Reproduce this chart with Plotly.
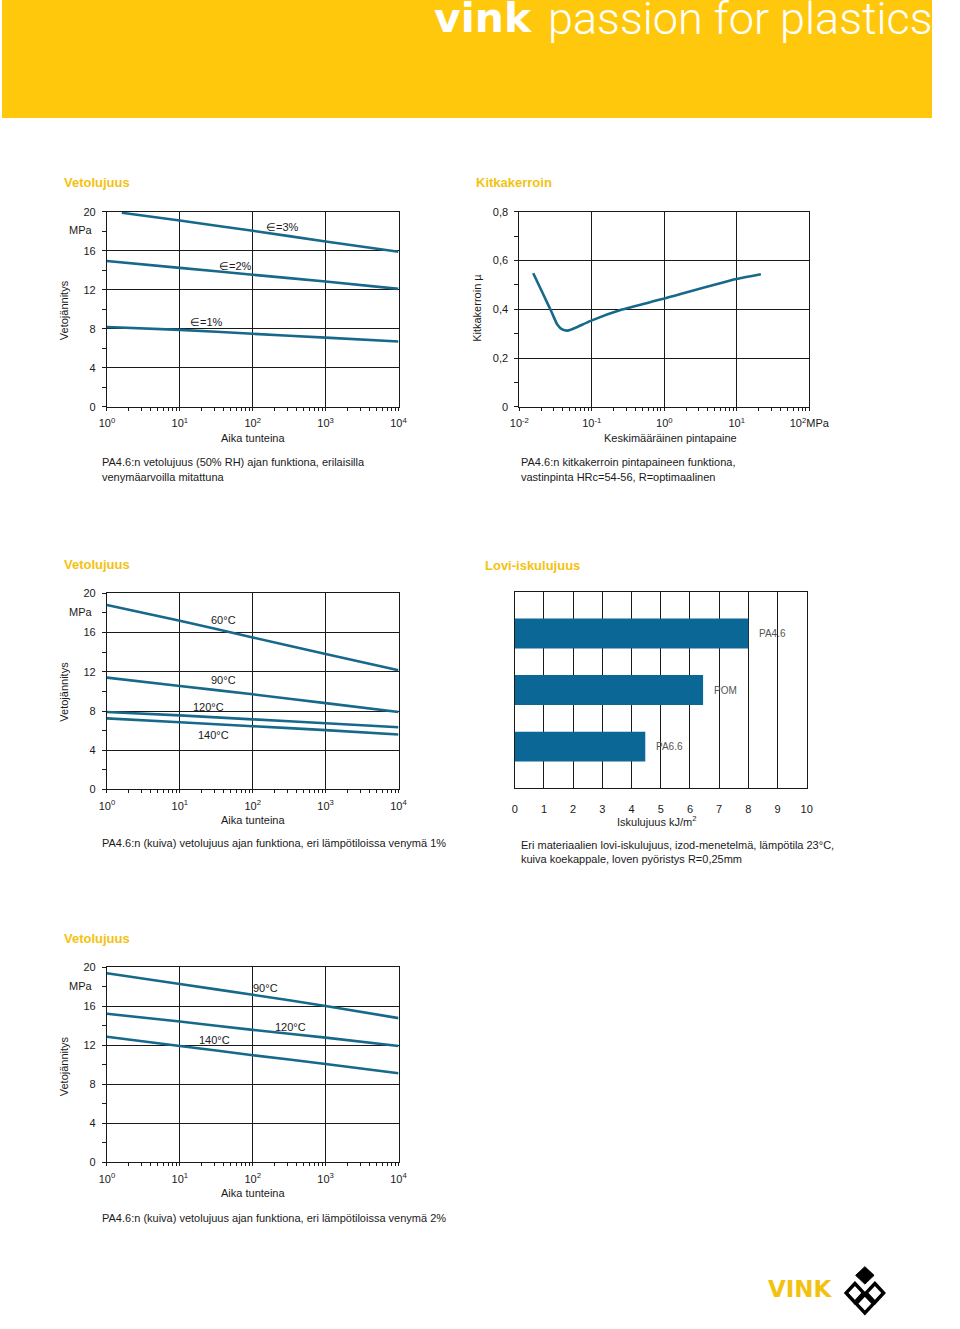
import plotly.graph_objects as go

W, H = 960, 1329
def px(x): return x / W
def py(y): return 1 - y / H

# ---------------- data ----------------
time_h = [1, 10, 100, 1000, 10000]
time_eps3 = [1.6, 10, 100, 1000, 10000]
eps3 = [19.9, 19.1, 18.05, 16.95, 15.9]
eps2 = [14.95, 14.25, 13.55, 12.85, 12.1]
eps1 = [8.2, 7.9, 7.5, 7.1, 6.7]

pressure = [0.01556, 0.02113, 0.02786, 0.03357, 0.03908, 0.04656, 0.05902, 0.0964, 0.2606, 0.94, 9.46, 21.5]
mu = [0.548, 0.465, 0.389, 0.337, 0.318, 0.313, 0.324, 0.353, 0.399, 0.442, 0.523, 0.544]

dry1_60 = [18.8, 17.2, 15.5, 13.8, 12.15]
dry1_90 = [11.4, 10.55, 9.7, 8.8, 7.9]
dry1_120 = [7.9, 7.55, 7.15, 6.75, 6.35]
dry1_140 = [7.25, 6.85, 6.45, 6.05, 5.6]

materials = ["PA4.6", "POM", "PA6.6"]
impact = [8.0, 6.45, 4.47]
mat_pos = [2, 1, 0]

dry2_90 = [19.4, 18.3, 17.2, 16.05, 14.8]
dry2_120 = [15.25, 14.45, 13.6, 12.8, 11.95]
dry2_140 = [12.9, 11.95, 11.0, 10.1, 9.15]

time_ticks = [1, 10, 100, 1000, 10000]
time_ticktext = ["10<sup>0</sup>", "10<sup>1</sup>", "10<sup>2</sup>", "10<sup>3</sup>", "10<sup>4</sup>"]
press_ticks = [0.01, 0.1, 1, 10, 100]
press_ticktext = ["10<sup>-2</sup>", "10<sup>-1</sup>", "10<sup>0</sup>", "10<sup>1</sup>", "10<sup>2</sup>MPa"]
stress_ticks = [0, 4, 8, 12, 16, 20]
stress_ticktext = ["0", "4", "8", "12", "16", "20"]
mu_ticks = [0, 0.2, 0.4, 0.6, 0.8]
mu_ticktext = ["0", "0,2", "0,4", "0,6", "0,8"]
impact_ticks = list(range(0, 11))

# ---------------- styles ----------------
LINE = "#17698c"
BAR = "#0b6896"
INK = "#1a1a1a"
YEL = "#f3c210"
HEAD = "#ffc80d"
FONT = "Liberation Sans"

def minor_log(lo, hi):
    vals = []
    for d in range(lo, hi):
        for m in range(2, 10):
            vals.append(m * 10 ** d)
    return vals

base_axis = dict(showline=True, linecolor=INK, linewidth=1, mirror=True,
                 showgrid=True, gridcolor=INK, gridwidth=1, zeroline=False,
                 tickcolor=INK, tickfont=dict(family=FONT, size=11, color=INK),
                 fixedrange=True)

def log_xaxis(dom, rng, tv, tt, lo, hi):
    return dict(base_axis, type="log", domain=dom, range=rng, tickmode="array",
                tickvals=tv, ticktext=tt, ticks="outside", ticklen=3,
                ticklabelstandoff=3,
                minor=dict(tickmode="array", tickvals=minor_log(lo, hi), ticks="outside",
                           ticklen=3, tickcolor=INK, showgrid=False))

def lin_yaxis(dom, rng, tv, tt, mdt):
    return dict(base_axis, domain=dom, range=rng, tickmode="array", tickvals=tv,
                ticktext=tt, ticks="outside", ticklen=4, ticklabelstandoff=4,
                minor=dict(dtick=mdt, tick0=0, ticks="outside", ticklen=4,
                           tickcolor=INK, showgrid=False))

fig = go.Figure()

def line(x, y, xa, ya):
    fig.add_trace(go.Scatter(x=x, y=y, mode="lines", xaxis=xa, yaxis=ya,
                             line=dict(color=LINE, width=2.6, shape="spline", smoothing=0.6),
                             hoverinfo="skip", showlegend=False))

# chart 1
line(time_eps3, eps3, "x", "y")
line(time_h, eps2, "x", "y")
line(time_h, eps1, "x", "y")
# chart 2
line(pressure, mu, "x2", "y2")
# chart 3
for s in [dry1_60, dry1_90, dry1_120, dry1_140]:
    line(time_h, s, "x3", "y3")
# chart 4
fig.add_trace(go.Bar(x=impact, y=mat_pos, orientation="h", width=0.53,
                     marker=dict(color=BAR, line=dict(width=0)), xaxis="x4", yaxis="y4",
                     hoverinfo="skip", showlegend=False))
# chart 5
for s in [dry2_90, dry2_120, dry2_140]:
    line(time_h, s, "x5", "y5")

xd_left = [px(108.3), px(409.3)]
row1 = [py(412.7), py(215.7)]
row2 = [py(798.7), py(600.7)]
row3 = [py(1175), py(978.3)]

fig.update_layout(
    autosize=True,
    margin=dict(l=0, r=0, t=0, b=0, pad=0),
    paper_bgcolor="white", plot_bgcolor="white",
    xaxis=log_xaxis(xd_left, [0, 4], time_ticks, time_ticktext, 0, 4),
    yaxis=lin_yaxis(row1, [0, 20], stress_ticks, stress_ticktext, 2),
    xaxis2=log_xaxis([px(534), px(833.3)], [-2, 2], press_ticks, press_ticktext, -2, 2),
    yaxis2=lin_yaxis(row1, [0, 0.8], mu_ticks, mu_ticktext, 0.1),
    xaxis3=log_xaxis(xd_left, [0, 4], time_ticks, time_ticktext, 0, 4),
    yaxis3=lin_yaxis(row2, [0, 20], stress_ticks, stress_ticktext, 2),
    xaxis4=dict(base_axis, domain=[px(529.3), px(830.7)], range=[0, 10], tickmode="array",
                tickvals=impact_ticks, ticks="", ticklabelstandoff=10),
    yaxis4=dict(base_axis, domain=[py(797.7), py(599)], range=[-0.74, 2.74],
                showgrid=False, showticklabels=False, ticks=""),
    xaxis5=log_xaxis(xd_left, [0, 4], time_ticks, time_ticktext, 0, 4),
    yaxis5=lin_yaxis(row3, [0, 20], stress_ticks, stress_ticktext, 2),
)
for i in ["", "2", "3", "4", "5"]:
    fig.layout["xaxis" + i].anchor = "y" + i
    fig.layout["yaxis" + i].anchor = "x" + i

ann = []
def text(x, y, t, size=11, color=INK, xanchor="left", bold=False, angle=0, family=FONT, weight=None):
    f = dict(family=family, size=size, color=color)
    if weight is not None:
        f["weight"] = weight
    ann.append(dict(x=px(x), y=py(y), xref="paper", yref="paper", text=("<b>%s</b>" % t) if bold else t,
                    showarrow=False, xanchor=xanchor, yanchor="middle", font=f, textangle=angle))

# section titles
text(62, 186, "Vetolujuus", 13, YEL, bold=True)
text(487, 186, "Kitkakerroin", 13, YEL, bold=True)
text(62, 572, "Vetolujuus", 13, YEL, bold=True)
text(496, 573, "Lovi-iskulujuus", 13, YEL, bold=True)
text(62, 949, "Vetolujuus", 13, YEL, bold=True)

# MPa labels
for y in [234, 620, 997]:
    text(96.5, y, "MPa", 11, xanchor="right")

# axis titles
for y in [444, 829, 1206]:
    text(259, y, "Aika tunteina", 11, xanchor="center")
text(690, 444, "Keskimääräinen pintapaine", 11, xanchor="center")
text(676, 830, "Iskulujuus kJ/m<sup>2</sup>", 11, xanchor="center")
for y in [315, 700, 1078]:
    text(64, y, "Vetojännitys", 11, xanchor="center", angle=-90)
text(491, 313, "Kitkakerroin µ", 11, xanchor="center", angle=-90)

# captions
text(101, 468, "PA4.6:n vetolujuus (50% RH) ajan funktiona, erilaisilla", 11)
text(101, 483, "venymäarvoilla mitattuna", 11)
text(534, 468, "PA4.6:n kitkakerroin pintapaineen funktiona,", 11)
text(534, 483, "vastinpinta HRc=54-56, R=optimaalinen", 11)
text(101, 853, "PA4.6:n (kuiva) vetolujuus ajan funktiona, eri lämpötiloissa venymä 1%", 11)
text(534, 855, "Eri materiaalien lovi-iskulujuus, izod-menetelmä, lämpötila 23°C,", 11)
text(534, 869, "kuiva koekappale, loven pyöristys R=0,25mm", 11)
text(101, 1231, "PA4.6:n (kuiva) vetolujuus ajan funktiona, eri lämpötiloissa venymä 2%", 11)

# curve labels (data coordinates)
curve_labels = [
    ("x", "y", 2.415, 18.4, "∈=3%"),
    ("x", "y", 1.77, 14.45, "∈=2%"),
    ("x", "y", 1.37, 8.7, "∈=1%"),
    ("x3", "y3", 1.60, 17.3, "60°C"),
    ("x3", "y3", 1.60, 11.15, "90°C"),
    ("x3", "y3", 1.40, 8.4, "120°C"),
    ("x3", "y3", 1.46, 5.6, "140°C"),
    ("x5", "y5", 2.18, 17.9, "90°C"),
    ("x5", "y5", 2.52, 13.9, "120°C"),
    ("x5", "y5", 1.47, 12.6, "140°C"),
]
for xr, yr, x, y, t in curve_labels:
    ann.append(dict(x=x, y=y, xref=xr, yref=yr, text=t, showarrow=False,
                    xanchor="center", yanchor="middle",
                    font=dict(family=FONT, size=11, color=INK)))

# bar labels
for m, v, p in zip(materials, impact, mat_pos):
    ann.append(dict(x=v, y=p, xref="x4", yref="y4", text=m, showarrow=False, xanchor="left",
                    yanchor="middle", xshift=9,
                    font=dict(family=FONT, size=10, color="#555555")))

# header text
ann.append(dict(x=px(444), y=py(20), xref="paper", yref="paper", text="<b>vink</b>", showarrow=False,
                xanchor="left", yanchor="middle",
                font=dict(family="DejaVu Sans", size=41, color="white")))
ann.append(dict(x=px(562), y=py(21), xref="paper", yref="paper", text="passion for plastics",
                showarrow=False, xanchor="left", yanchor="middle",
                font=dict(family="Roboto", size=45, color="white", weight=300)))
# footer logo word
ann.append(dict(x=px(789), y=py(1303), xref="paper", yref="paper", text="<b>VINK</b>", showarrow=False,
                xanchor="left", yanchor="middle",
                font=dict(family="DejaVu Sans", size=23, color=YEL)))

fig.update_layout(annotations=ann)

shapes = [dict(type="rect", xref="paper", yref="paper", x0=0, x1=1, y0=py(121), y1=1,
               fillcolor=HEAD, line=dict(width=0), layer="below")]

def diamond(cx, cy, hx, hy):
    pts = [(cx, cy - hy), (cx + hx, cy), (cx, cy + hy), (cx - hx, cy)]
    return "M " + " L ".join("%f,%f" % (px(a), py(b)) for a, b in pts) + " Z"

for cx, cy in [(880.4, 1306.7), (901.0, 1306.7), (890.7, 1317.5)]:
    shapes.append(dict(type="path", xref="paper", yref="paper", path=diamond(cx, cy, 9.0, 9.5),
                       fillcolor="white", line=dict(color="black", width=3.5)))
shapes.append(dict(type="path", xref="paper", yref="paper", path=diamond(890.7, 1289, 9.5, 8.8),
                   fillcolor="black", line=dict(color="black", width=1)))
fig.update_layout(shapes=shapes)

fig.write_html("out.html", config={"displayModeBar": False, "responsive": False},
               default_width="960px;margin:-8px",
               default_height="1329px")
